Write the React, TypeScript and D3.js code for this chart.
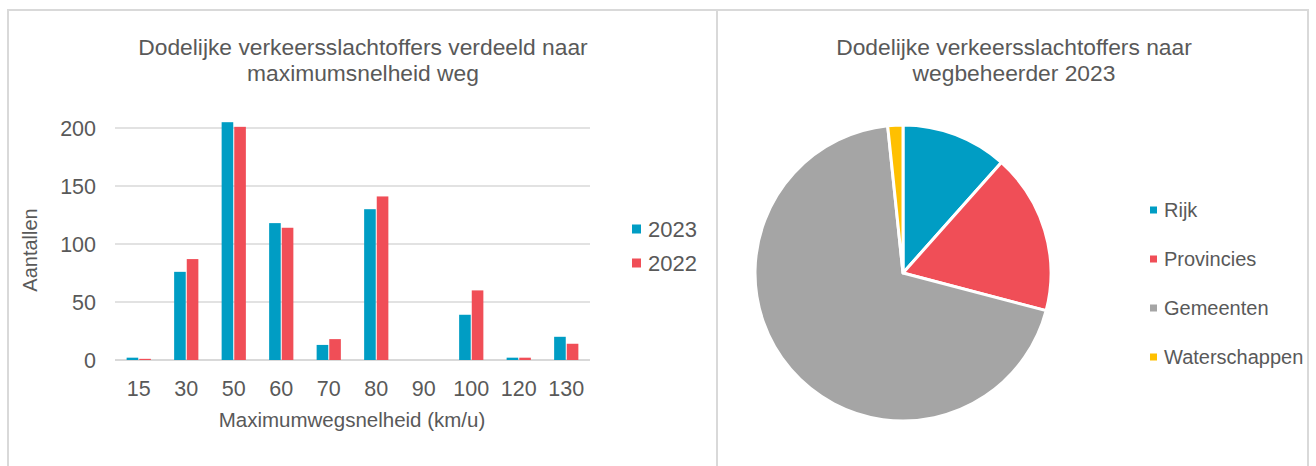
import React from 'react';
import * as d3 from 'd3';

// Bar chart data
const speeds = ['15', '30', '50', '60', '70', '80', '90', '100', '120', '130'];
const series = ['2023', '2022'];
const deaths2023 = [2, 76, 205, 118, 13, 130, 0, 39, 2, 20];
const deaths2022 = [1, 87, 201, 114, 18, 141, 0, 60, 2, 14];
const yTicks = [0, 50, 100, 150, 200];

// Pie chart data
const managers = ['Rijk', 'Provincies', 'Gemeenten', 'Waterschappen'];
const managerDeaths = [70, 106, 419, 10];

const BLUE = '#009dc4';
const RED = '#f04e57';
const GRAY = '#a5a5a5';
const YELLOW = '#ffc000';
const TEXT = '#595959';
const GRID = '#d9d9d9';
const FONT = '"Liberation Sans", Arial, sans-serif';

const seriesColor = d3.scaleOrdinal<string, string>().domain(series).range([BLUE, RED]);
const pieColor = d3.scaleOrdinal<string, string>().domain(managers).range([BLUE, RED, GRAY, YELLOW]);

const BarChart = () => {
  const left = 115;
  const right = 590;
  const bottom = 360;
  const top = 128;

  const x0 = d3.scaleBand().domain(speeds).range([left, right]).paddingInner(0.49).paddingOuter(0.245);
  const x1 = d3.scaleBand().domain(series).range([0, x0.bandwidth()]).paddingInner(0.08);
  const y = d3.scaleLinear().domain([0, 200]).range([bottom, top]);

  const rows = speeds.map((s, i) => ({ speed: s, values: [deaths2023[i], deaths2022[i]] }));

  return (
    <g fontFamily={FONT} fill={TEXT}>
      <text textAnchor="middle" fontSize={22.8}>
        <tspan x={363} y={55}>Dodelijke verkeersslachtoffers verdeeld naar</tspan>
        <tspan x={363} y={81}>maximumsnelheid weg</tspan>
      </text>

      {yTicks.map((t) => (
        <g key={t}>
          <line x1={left} x2={right} y1={y(t)} y2={y(t)} stroke={GRID} strokeWidth={t === 0 ? 2 : 1.5} />
          <text x={96} y={y(t)} dy="0.35em" textAnchor="end" fontSize={21.5}>
            {t}
          </text>
        </g>
      ))}

      {rows.map((r) => (
        <g key={r.speed} transform={`translate(${x0(r.speed)},0)`}>
          {r.values.map((v, j) => (
            <rect
              key={series[j]}
              x={x1(series[j])}
              y={y(v)}
              width={x1.bandwidth()}
              height={bottom - y(v)}
              fill={seriesColor(series[j])}
            />
          ))}
        </g>
      ))}

      {speeds.map((s) => (
        <text key={s} x={(x0(s) as number) + x0.bandwidth() / 2} y={396} textAnchor="middle" fontSize={21.5}>
          {s}
        </text>
      ))}

      <text x={352} y={427} textAnchor="middle" fontSize={20.5}>
        Maximumwegsnelheid (km/u)
      </text>
      <text transform="translate(37,250) rotate(-90)" textAnchor="middle" fontSize={20}>
        Aantallen
      </text>

      {series.map((s, i) => (
        <g key={s} transform={`translate(632,${229 + i * 34})`}>
          <rect x={0} y={-4.5} width={9} height={9} fill={seriesColor(s)} />
          <text x={16} y={0} dy="0.36em" fontSize={22}>
            {s}
          </text>
        </g>
      ))}
    </g>
  );
};

const PieChart = () => {
  const cx = 903;
  const cy = 273;
  const radius = 148;
  const pie = d3.pie<number>().sort(null)(managerDeaths);
  const arc = d3.arc<d3.PieArcDatum<number>>().innerRadius(0).outerRadius(radius);

  return (
    <g fontFamily={FONT} fill={TEXT}>
      <text textAnchor="middle" fontSize={22.8}>
        <tspan x={1014} y={55}>Dodelijke verkeersslachtoffers naar</tspan>
        <tspan x={1014} y={81}>wegbeheerder 2023</tspan>
      </text>

      <g transform={`translate(${cx},${cy})`}>
        {pie.map((p, i) => (
          <path key={managers[i]} d={arc(p) || ''} fill={pieColor(managers[i])} stroke="#fff" strokeWidth={3} strokeLinejoin="round" />
        ))}
      </g>

      {managers.map((m, i) => (
        <g key={m} transform={`translate(1150,${210 + i * 49})`}>
          <rect x={0} y={-3.5} width={7} height={7} fill={pieColor(m)} />
          <text x={14} y={0} dy="0.36em" fontSize={20}>
            {m}
          </text>
        </g>
      ))}
    </g>
  );
};

export default function App() {
  return (
    <div style={{ position: 'absolute', left: 0, top: 0 }}>
      <svg width={1316} height={466} style={{ display: 'block', background: '#fff' }}>
        <path d="M8,480 V10 H1308 V480" fill="none" stroke={GRID} strokeWidth={2} />
        <line x1={717} x2={717} y1={10} y2={480} stroke={GRID} strokeWidth={2} />
        <BarChart />
        <PieChart />
      </svg>
    </div>
  );
}
